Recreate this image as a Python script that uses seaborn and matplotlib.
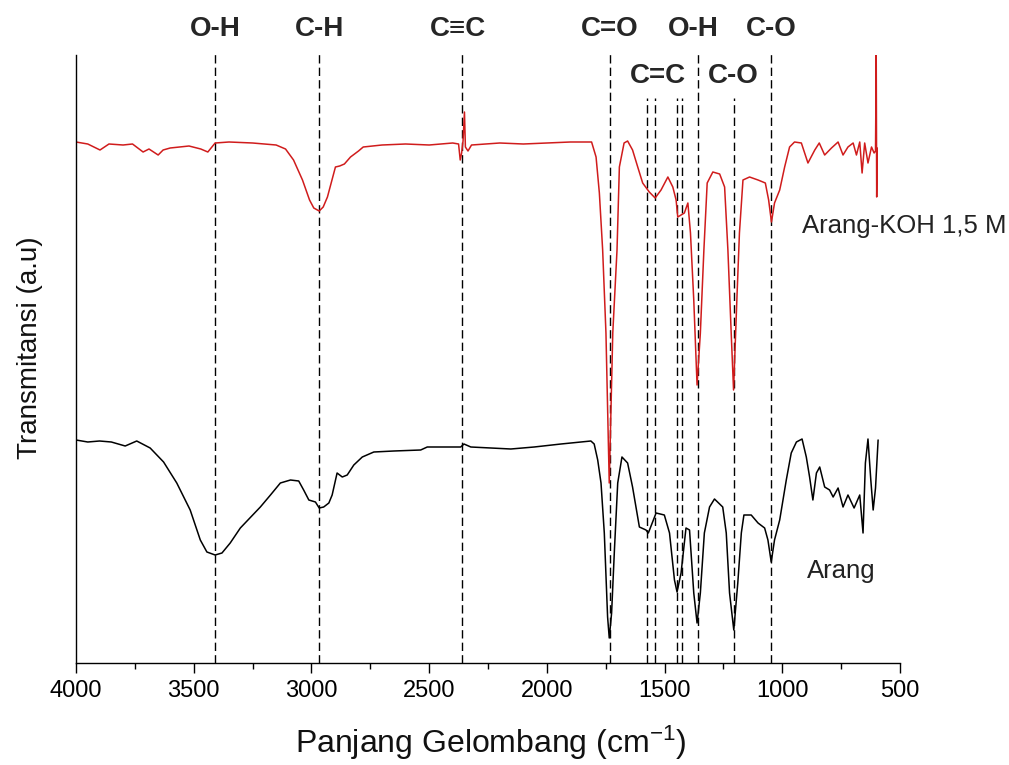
import matplotlib
matplotlib.use("Agg")
import matplotlib.pyplot as plt
import seaborn as sns
import pandas as pd

# ---------------- data ----------------
# Arang-KOH 1,5 M (red) : wavenumber (cm-1) and transmittance (a.u.)
koh_wn = [4000, 3950, 3898, 3860, 3800, 3760, 3715, 3690, 3651, 3630, 3600, 3520, 3470, 3440,
          3409, 3350, 3250, 3150, 3110, 3076, 3038, 3008, 2990, 2967, 2950, 2932, 2898, 2880,
          2860, 2834, 2800, 2780, 2700, 2600, 2500, 2400, 2375, 2368, 2362, 2356, 2350, 2346,
          2335, 2320, 2200, 2100, 2000, 1900, 1810, 1791, 1777, 1763, 1749, 1735, 1720, 1702,
          1692, 1672, 1657, 1636, 1614, 1593, 1565, 1540, 1515, 1486, 1465, 1451, 1444, 1416,
          1401, 1390, 1376, 1362, 1348, 1333, 1319, 1295, 1266, 1245, 1231, 1217, 1207, 1193,
          1182, 1167, 1139, 1103, 1072, 1058, 1046, 1033, 1011, 990, 969, 948, 919, 891, 862,
          843, 820, 791, 763, 742, 721, 699, 685, 671, 661, 650, 636, 621, 610, 604, 601, 599, 597]
koh_t = [521, 519, 513, 519, 518, 519, 511, 514, 508, 513, 515, 517, 514, 511,
         520, 521, 520, 518, 514, 503, 483, 463, 455, 452, 456, 466, 496, 497,
         499, 506, 512, 516, 518, 519, 518, 520, 519, 503, 510, 522, 551, 516,
         512, 518, 520, 519, 520, 521, 521, 506, 470, 413, 330, 180, 330, 413,
         496, 520, 522, 513, 496, 480, 471, 465, 473, 486, 476, 463, 446, 450,
         460, 430, 363, 278, 330, 413, 480, 491, 489, 476, 413, 330, 273, 363,
         430, 483, 486, 483, 480, 463, 441, 460, 473, 496, 516, 521, 520, 500, 513,
         520, 508, 515, 521, 508, 516, 520, 508, 521, 490, 520, 500, 516, 510, 512, 608, 466, 515]

# Arang (black)
arang_wn = [4000, 3950, 3900, 3850, 3791, 3742, 3685, 3628, 3572, 3515, 3472, 3444, 3409, 3380,
            3345, 3302, 3217, 3174, 3132, 3089, 3054, 3033, 3011, 2983, 2967, 2948, 2926, 2912,
            2891, 2869, 2848, 2820, 2784, 2735, 2650, 2536, 2508, 2366, 2352, 2323, 2153, 2054,
            1940, 1813, 1799, 1784, 1770, 1756, 1742, 1735, 1725, 1713, 1699, 1681, 1657, 1636,
            1607, 1579, 1569, 1536, 1501, 1479, 1458, 1447, 1430, 1409, 1394, 1376, 1362, 1348,
            1331, 1309, 1288, 1253, 1238, 1224, 1206, 1189, 1174, 1163, 1132, 1103, 1075, 1061,
            1047, 1033, 1011, 983, 962, 940, 916, 898, 884, 870, 855, 841, 820, 799, 784, 763,
            742, 721, 695, 671, 657, 647, 636, 624, 614, 604, 593]
arang_t = [223, 221, 222, 221, 217, 222, 215, 201, 180, 153, 123, 111, 108, 110,
           120, 135, 156, 168, 180, 183, 182, 173, 163, 161, 155, 156, 160, 168,
           190, 186, 188, 198, 206, 211, 212, 213, 216, 216, 219, 216, 214, 216,
           219, 222, 219, 203, 180, 130, 46, 25, 50, 113, 180, 206, 200, 176,
           136, 133, 130, 150, 148, 130, 83, 71, 90, 135, 133, 70, 40, 70,
           130, 156, 164, 156, 130, 70, 33, 80, 130, 148, 148, 140, 135, 123,
           101, 123, 143, 183, 210, 221, 224, 206, 186, 163, 190, 196, 176, 173, 166, 175,
           156, 168, 155, 168, 130, 200, 224, 183, 153, 175, 223]

# band assignments: full-height dashed lines and shorter dashed lines
long_lines = [3409, 2967, 2362, 1732, 1360, 1046]
short_lines = [1574, 1539, 1446, 1427, 1206]
top_labels = ["O-H", "C-H", "C\u2261C", "C=O", "O-H", "C-O"]
top_label_wn = [3409, 2967, 2379, 1732, 1376, 1046]
second_labels = ["C=C", "C-O"]
second_label_wn = [1529, 1208]

x_ticks = [4000, 3500, 3000, 2500, 2000, 1500, 1000, 500]

# ---------------- plot ----------------
sns.set_theme(style="ticks")
plt.rcParams["font.family"] = ["Liberation Sans", "DejaVu Sans"]
plt.rcParams["mathtext.fontset"] = "custom"
plt.rcParams["mathtext.rm"] = "Liberation Sans"
plt.rcParams["mathtext.default"] = "regular"

fig = plt.figure(figsize=(10.09, 7.65), dpi=100)
ax = fig.add_axes([76 / 1009, (765 - 663) / 765, (900 - 76) / 1009, (663 - 55) / 765])

df_koh = pd.DataFrame({"wn": koh_wn, "t": koh_t})
df_ar = pd.DataFrame({"wn": arang_wn, "t": arang_t})
sns.lineplot(data=df_koh, x="wn", y="t", ax=ax, color="#d01c1c", linewidth=1.1,
             sort=False, estimator=None)
sns.lineplot(data=df_ar, x="wn", y="t", ax=ax, color="black", linewidth=1.1,
             sort=False, estimator=None)

ax.set_xlim(4000, 500)
ax.set_ylim(0, 608)

for w in long_lines:
    ax.plot([w, w], [0, 609], color="black", linewidth=1.0, linestyle=(0, (6, 3)),
            clip_on=False, zorder=1)
for w in short_lines:
    ax.plot([w, w], [0, 565], color="black", linewidth=1.0, linestyle=(0, (6, 3)),
            clip_on=False, zorder=1)

bold = dict(fontsize=20, fontweight="bold", ha="center", va="baseline", clip_on=False,
            family=["Liberation Sans", "DejaVu Sans"])
for lab, w in zip(top_labels, top_label_wn):
    ax.text(w, 627, lab, **bold)
for lab, w in zip(second_labels, second_label_wn):
    ax.text(w, 580, lab, **bold)

ax.text(915, 430, "Arang-KOH 1,5 M", fontsize=18.5, ha="left", va="baseline", color="#222222")
ax.text(894, 85, "Arang", fontsize=18.5, ha="left", va="baseline", color="#222222")

ax.set_xticks(x_ticks)
ax.set_xticklabels([str(v) for v in x_ticks])
ax.set_xticks(list(range(3750, 500, -500)), minor=True)
ax.set_yticks([])
ax.tick_params(axis="x", which="major", length=7, width=1.0, direction="out",
               labelsize=17, pad=5, colors="black")
ax.tick_params(axis="x", which="minor", length=4, width=1.0, direction="out", colors="black")

for s in ["top", "right"]:
    ax.spines[s].set_visible(False)
for s in ["left", "bottom"]:
    ax.spines[s].set_color("black")
    ax.spines[s].set_linewidth(1.0)

ax.set_xlabel("Panjang Gelombang (cm$^{-1}$)", fontsize=23, color="#111111")
ax.set_ylabel("Transmitansi (a.u)", fontsize=20, color="#111111")
ax.xaxis.set_label_coords(0.503, -0.10)
ax.yaxis.set_label_coords(-0.040, 0.519)

fig.savefig("out.png", dpi=100, facecolor="white")
